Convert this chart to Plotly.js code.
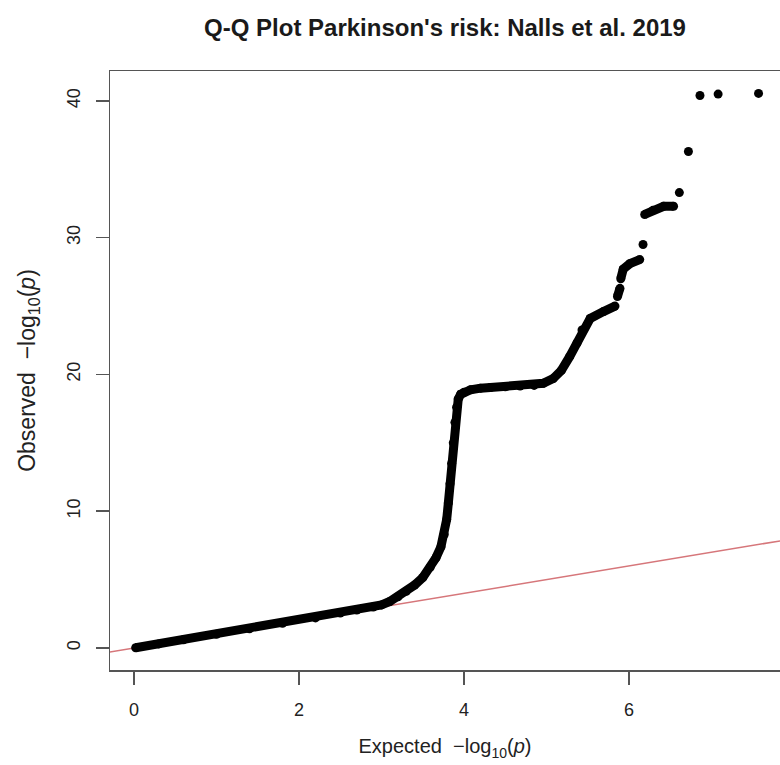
<!DOCTYPE html>
<html><head><meta charset="utf-8">
<script src="https://cdn.plot.ly/plotly-3.0.1.min.js"></script>
<style>html,body{margin:0;padding:0;background:#fff}#chart{width:780px;height:765px}</style>
</head><body><div id="chart"></div>
<script>
// Expected vs observed -log10(p) (null = gap between clusters)
const expectedP = [0.02, 0.3, 0.6, 1.0, 1.4, 1.8, 2.2, 2.5, 2.7, 2.9, 3.0, 3.1, 3.2, 3.3, 3.4, 3.5, 3.59, 3.66, 3.72, 3.76, 3.79, 3.81, 3.83, 3.85, 3.87, 3.89, 3.91, 3.93, 3.96, 4.0, 4.08, 4.2, 4.32, 4.5, 4.68, 4.85, 4.96, 5.08, 5.18, 5.28, 5.37, 5.43, 5.53, 5.69, 5.83,
  null, 5.86, 5.89, null, 5.90, 5.93, 6.01, 6.13, null, 6.17, null, 6.19, 6.29, 6.42, 6.54, null, 6.61, null, 6.72, null, 6.86, null, 7.08, null, 7.57];
const observedP = [0.02, 0.3, 0.6, 1.0, 1.4, 1.8, 2.2, 2.55, 2.78, 3.0, 3.15, 3.4, 3.75, 4.15, 4.6, 5.15, 5.9, 6.6, 7.4, 8.3, 9.4, 10.6, 12.0, 13.5, 15.0, 16.5, 17.6, 18.2, 18.55, 18.7, 18.88, 19.0, 19.05, 19.1, 19.15, 19.2, 19.35, 19.7, 20.3, 21.3, 22.3, 23.25, 24.1, 24.6, 25.0,
  null, 25.7, 26.3, null, 27.0, 27.7, 28.1, 28.4, null, 29.5, null, 31.7, 32.0, 32.3, 32.3, null, 33.3, null, 36.3, null, 40.4, null, 40.5, null, 40.55];
// Reference line y = x
const refLineX = [-0.3, 7.9];
const refLineY = [-0.3, 7.9];
const xTickVals = [0, 2, 4, 6];
const xTickText = ['0', '2', '4', '6'];
const yTickVals = [0, 10, 20, 30, 40];
const yTickText = ['0', '10', '20', '30', '40'];

const FONT = 'Liberation Sans, Arial, Helvetica, sans-serif';
const AX = '#555555';

const traces = [
  {x: refLineX, y: refLineY, type: 'scatter', mode: 'lines',
   line: {color: 'rgb(214,118,122)', width: 1.5}, hoverinfo: 'skip', showlegend: false},
  {x: expectedP, y: observedP, type: 'scatter', mode: 'lines+markers', connectgaps: false,
   line: {color: '#000', width: 9}, marker: {color: '#000', size: 9},
   hoverinfo: 'skip', showlegend: false}
];

const axisCommon = {
  showgrid: false, zeroline: false, showline: true, linecolor: AX, linewidth: 1.5,
  ticks: 'outside', ticklen: 13, tickwidth: 1.5, tickcolor: AX,
  tickfont: {family: FONT, size: 18, color: '#222'}, automargin: false, fixedrange: true
};

const layout = {
  width: 780, height: 765,
  margin: {l: 110, r: 0, t: 71, b: 95},
  paper_bgcolor: '#fff', plot_bgcolor: '#fff',
  font: {family: FONT, color: '#222'},
  title: {text: "Q-Q Plot Parkinson's risk: Nalls et al. 2019",
          font: {family: FONT, size: 24, weight: 'bold', color: '#1a1a1a'},
          x: 0.5, xref: 'paper', xanchor: 'center', y: 1 - 28 / 765, yref: 'container', yanchor: 'middle'},
  xaxis: Object.assign({}, axisCommon, {
    range: [-0.291, 7.83], tickvals: xTickVals, ticktext: xTickText, mirror: true,
    ticklabelstandoff: 10,
    title: {text: 'Expected  \u2212log<sub>10</sub>(<i>p</i>)', font: {family: FONT, size: 20, color: '#222'}, standoff: 20}
  }),
  yaxis: Object.assign({}, axisCommon, {
    range: [-1.61, 42.19], tickvals: yTickVals, ticktext: yTickText, tickangle: -90,
    ticklabelstandoff: 8,
    title: {text: 'Observed  \u2212log<sub>10</sub>(<i>p</i>)', font: {family: FONT, size: 23, color: '#222'}, standoff: 22}
  })
};

Plotly.newPlot('chart', traces, layout, {staticPlot: true, displayModeBar: false});
</script>
</body></html>
